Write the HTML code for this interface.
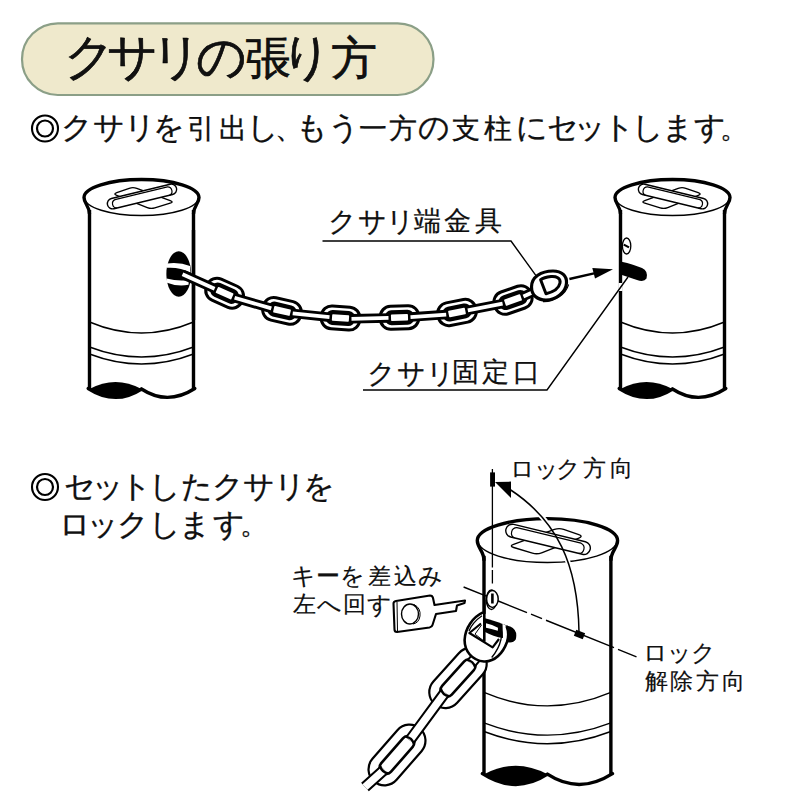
<!DOCTYPE html>
<html><head><meta charset="utf-8">
<style>
html,body{margin:0;padding:0;background:#fff;width:800px;height:800px;overflow:hidden;position:relative}
body{font-family:"Liberation Sans",sans-serif;color:#111}
.g{position:absolute;white-space:nowrap;line-height:1}
svg{position:absolute;left:0;top:0}
.ns *{vector-effect:non-scaling-stroke}
</style></head><body>
<svg width="800" height="800" viewBox="0 0 800 800">
<rect x="22" y="23.3" width="411.5" height="71.7" rx="35.85" fill="#EFE9CC" stroke="#8B9F87" stroke-width="2.2"/>

<g transform="translate(-531,0)"><path d="M620.5,214 C620.5,206 615,203.5 615,197.5 A57.5,18 0 0 1 730,197.5 C730,203.5 724.5,206 724.5,214" fill="#fff" stroke="#000" stroke-width="3.4"/>
<path d="M615.5,197.5 A57,18 0 0 0 729.5,197.5" fill="none" stroke="#000" stroke-width="1.4"/>
<path d="M620.5,210 V389 M724.5,210 V389" stroke="#000" stroke-width="3.4" fill="none"/>
<path d="M620.5,322 Q672.5,344 724.5,322 M620.5,347 Q672.5,367 724.5,347 M620.5,354 Q672.5,374 724.5,354" stroke="#000" stroke-width="1.4" fill="none"/>
<path d="M620.5,389 Q646.5,375 672.5,389 Q646.5,405 620.5,389 Z" fill="#000"/>
<path d="M619.2,388.5 Q646.5,406 672.5,389 Q698.5,406 725.8,388.5" stroke="#000" stroke-width="3.4" fill="none" stroke-linecap="round"/></g>
<g transform="matrix(-1,0,0,1,815,0)"><path d="M644.83,203.16 Q641,202 644.76,200.63 L678.24,188.37 Q682,187 685.78,188.32 L698.22,192.68 Q702,194 698.28,195.47 L667.72,207.53 Q664,209 660.17,207.84 Z" fill="#fff" stroke="#000" stroke-width="1.4"/>
<g transform="translate(673,196.5) rotate(13.6)"><rect x="-35.5" y="-5.3" width="71" height="10.6" rx="5.3" fill="#fff" stroke="#000" stroke-width="1.4"/><path d="M-27,5.3 A4.4,4.4 0 0 1 -27,-3.3 H27 A4.4,4.4 0 0 1 27,5.3" fill="none" stroke="#000" stroke-width="1.2"/></g></g>
<ellipse cx="178.75" cy="274" rx="12.4" ry="22.7" fill="#000"/>
<path d="M167,263.5 Q180,262 190,266 L190.5,272.5 Q180,267 167,267.8 Z" fill="#fff"/>
<path d="M166.5,278.5 Q178,281.5 189,280 L188.5,284.8 Q178,287 167,282.7 Z" fill="#fff"/>
<path d="M193.5,230 V320" stroke="#000" stroke-width="3.4"/>
<g transform="translate(224.6,293.2) rotate(24)"><rect x="-20.75" y="-13" width="41.5" height="26" rx="12" fill="#000"/><rect x="-17.75" y="-10" width="35.5" height="20" rx="9" fill="#fff"/><rect x="-14.5" y="-7.5" width="29" height="15" rx="6.5" fill="#000"/><rect x="-8.5" y="-3.3" width="17" height="6.6" rx="0.8" fill="#fff"/></g>
<g transform="translate(282,310.9) rotate(13)"><rect x="-20.75" y="-13" width="41.5" height="26" rx="12" fill="#000"/><rect x="-17.75" y="-10" width="35.5" height="20" rx="9" fill="#fff"/><rect x="-14.5" y="-7.5" width="29" height="15" rx="6.5" fill="#000"/><rect x="-8.5" y="-3.3" width="17" height="6.6" rx="0.8" fill="#fff"/></g>
<g transform="translate(340.5,318) rotate(4)"><rect x="-20.75" y="-13" width="41.5" height="26" rx="12" fill="#000"/><rect x="-17.75" y="-10" width="35.5" height="20" rx="9" fill="#fff"/><rect x="-14.5" y="-7.5" width="29" height="15" rx="6.5" fill="#000"/><rect x="-8.5" y="-3.3" width="17" height="6.6" rx="0.8" fill="#fff"/></g>
<g transform="translate(399.5,317.5) rotate(-2)"><rect x="-20.75" y="-13" width="41.5" height="26" rx="12" fill="#000"/><rect x="-17.75" y="-10" width="35.5" height="20" rx="9" fill="#fff"/><rect x="-14.5" y="-7.5" width="29" height="15" rx="6.5" fill="#000"/><rect x="-8.5" y="-3.3" width="17" height="6.6" rx="0.8" fill="#fff"/></g>
<g transform="translate(457,312.5) rotate(-11)"><rect x="-20.75" y="-13" width="41.5" height="26" rx="12" fill="#000"/><rect x="-17.75" y="-10" width="35.5" height="20" rx="9" fill="#fff"/><rect x="-14.5" y="-7.5" width="29" height="15" rx="6.5" fill="#000"/><rect x="-8.5" y="-3.3" width="17" height="6.6" rx="0.8" fill="#fff"/></g>
<g transform="translate(513,300) rotate(-19)"><rect x="-20.75" y="-13" width="41.5" height="26" rx="12" fill="#000"/><rect x="-17.75" y="-10" width="35.5" height="20" rx="9" fill="#fff"/><rect x="-14.5" y="-7.5" width="29" height="15" rx="6.5" fill="#000"/><rect x="-8.5" y="-3.3" width="17" height="6.6" rx="0.8" fill="#fff"/></g>
<path d="M182.5,274.3 L214.6,288.7 M234.6,297.7 L271.3,308.4 M292.7,313.4 L329.5,317.2 M351.5,318.8 L388.5,317.9 M410.5,317.1 L446.2,314.6 M467.8,310.4 L502.6,303.6 M523.4,296.4 L540.0,289.0" fill="none" stroke="#000" stroke-width="9.5"/>
<path d="M182.5,274.3 L214.6,288.7 M234.6,297.7 L271.3,308.4 M292.7,313.4 L329.5,317.2 M351.5,318.8 L388.5,317.9 M410.5,317.1 L446.2,314.6 M467.8,310.4 L502.6,303.6 M523.4,296.4 L540.0,289.0" fill="none" stroke="#fff" stroke-width="3.8"/>
<path d="M543,301.6 C555,302 566,294 568.6,284.5" fill="none" stroke="#000" stroke-width="1.1"/>
<path d="M531.5,287 C531.5,277 541,271 553,271 C562,271 567,276 566.5,283 C566,292 556,300 546,300 C537,300 531.5,295 531.5,287 Z" fill="#fff" stroke="#000" stroke-width="3.2"/>
<path d="M540.6,279.7 L546,293.7 C553,292 559,288 560,283 C561,278 556,276 551,276.5 C547,277 543,278 540.6,279.7 Z" fill="#fff" stroke="#000" stroke-width="3" stroke-linejoin="round"/>
<path d="M620.5,214 C620.5,206 615,203.5 615,197.5 A57.5,18 0 0 1 730,197.5 C730,203.5 724.5,206 724.5,214" fill="#fff" stroke="#000" stroke-width="3.4"/>
<path d="M615.5,197.5 A57,18 0 0 0 729.5,197.5" fill="none" stroke="#000" stroke-width="1.4"/>
<path d="M620.5,210 V389 M724.5,210 V389" stroke="#000" stroke-width="3.4" fill="none"/>
<path d="M620.5,322 Q672.5,344 724.5,322 M620.5,347 Q672.5,367 724.5,347 M620.5,354 Q672.5,374 724.5,354" stroke="#000" stroke-width="1.4" fill="none"/>
<path d="M620.5,389 Q646.5,375 672.5,389 Q646.5,405 620.5,389 Z" fill="#000"/>
<path d="M619.2,388.5 Q646.5,406 672.5,389 Q698.5,406 725.8,388.5" stroke="#000" stroke-width="3.4" fill="none" stroke-linecap="round"/>
<path d="M644.83,203.16 Q641,202 644.76,200.63 L678.24,188.37 Q682,187 685.78,188.32 L698.22,192.68 Q702,194 698.28,195.47 L667.72,207.53 Q664,209 660.17,207.84 Z" fill="#fff" stroke="#000" stroke-width="1.4"/>
<g transform="translate(673,196.5) rotate(13.6)"><rect x="-35.5" y="-5.3" width="71" height="10.6" rx="5.3" fill="#fff" stroke="#000" stroke-width="1.4"/><path d="M-27,5.3 A4.4,4.4 0 0 1 -27,-3.3 H27 A4.4,4.4 0 0 1 27,5.3" fill="none" stroke="#000" stroke-width="1.2"/></g>
<ellipse cx="626.6" cy="246" rx="4.2" ry="8" fill="#fff" stroke="#000" stroke-width="1.3"/>
<path d="M620.5,261.5 C630,263.5 637,266 642,268 Q648.5,271 646.5,278.5 Q644,282.5 637,280 L620.5,274.5 Z" fill="#000"/>
<path d="M620.5,283 V291" stroke="#fff" stroke-width="4"/>
<path d="M623.8,244.6 L629,247.4" stroke="#000" stroke-width="2.2"/>
<path d="M322.5,241 H511 L536,275.7" fill="none" stroke="#000" stroke-width="1.4"/>
<path d="M363,390 H547 L628,277" fill="none" stroke="#000" stroke-width="1.4"/>
<path d="M569.4,279 L594,273.4" stroke="#000" stroke-width="2.4"/>
<path d="M592.3,268.1 L613,269.3 L595,278.6 Z" fill="#000"/>
<g class="ns" transform="translate(484,518) scale(1.22) translate(-620.5,-179)"><path d="M620.5,214 C620.5,206 615,203.5 615,197.5 A57.5,18 0 0 1 730,197.5 C730,203.5 724.5,206 724.5,214" fill="#fff" stroke="#000" stroke-width="3.4"/>
<path d="M615.5,197.5 A57,18 0 0 0 729.5,197.5" fill="none" stroke="#000" stroke-width="1.4"/>
<path d="M620.5,210 V389 M724.5,210 V389" stroke="#000" stroke-width="3.4" fill="none"/>
<path d="M620.5,322 Q672.5,344 724.5,322 M620.5,347 Q672.5,367 724.5,347 M620.5,354 Q672.5,374 724.5,354" stroke="#000" stroke-width="1.4" fill="none"/>
<path d="M620.5,389 Q646.5,375 672.5,389 Q646.5,405 620.5,389 Z" fill="#000"/>
<path d="M619.2,388.5 Q646.5,406 672.5,389 Q698.5,406 725.8,388.5" stroke="#000" stroke-width="3.4" fill="none" stroke-linecap="round"/><path d="M644.83,203.16 Q641,202 644.76,200.63 L678.24,188.37 Q682,187 685.78,188.32 L698.22,192.68 Q702,194 698.28,195.47 L667.72,207.53 Q664,209 660.17,207.84 Z" fill="#fff" stroke="#000" stroke-width="1.4"/>
<g transform="translate(673,196.5) rotate(13.6)"><rect x="-35.5" y="-5.3" width="71" height="10.6" rx="5.3" fill="#fff" stroke="#000" stroke-width="1.4"/><path d="M-27,5.3 A4.4,4.4 0 0 1 -27,-3.3 H27 A4.4,4.4 0 0 1 27,5.3" fill="none" stroke="#000" stroke-width="1.2"/></g><ellipse cx="626.6" cy="246" rx="4.2" ry="8" fill="#fff" stroke="#000" stroke-width="1.3"/>
<path d="M620.5,261.5 C630,263.5 637,266 642,268 Q648.5,271 646.5,278.5 Q644,282.5 637,280 L620.5,274.5 Z" fill="#000"/></g>
<path d="M492.4,469 V567.5 M492.4,570 V583.5" stroke="#000" stroke-width="1.3"/>
<rect x="490.1" y="472.4" width="4.9" height="14.2" fill="#000"/>
<path d="M495,482 L511,481.6 L511,498 Z" fill="#000"/>
<path d="M510,489.5 C556.75,520.23 577.9,563.67 579,632" fill="none" stroke="#fff" stroke-width="5" stroke-dasharray="0 40 8.6 41.9 7.2 200"/>
<path d="M510,489.5 C556.75,520.23 577.9,563.67 579,632" fill="none" stroke="#000" stroke-width="1.5"/>
<path d="M463.6,587.00 L487,596.45 M497,600.48 L527,612.59 M531,614.21 L542,618.65 M546,620.26 L614,647.72 M618,649.33 L636.5,656.80" stroke="#000" stroke-width="1.4"/>
<rect x="-4.8" y="-3.2" width="9.6" height="6.4" fill="#000" transform="translate(579.5,634.5) rotate(22)"/>
<ellipse cx="492.4" cy="599" rx="5.8" ry="8.4" fill="#fff" stroke="#000" stroke-width="1.5"/>
<path d="M492.4,593.5 V603.5" stroke="#000" stroke-width="2.6"/>
<g transform="translate(458,678) rotate(-48)"><rect x="-35" y="-16" width="70" height="32" rx="16" fill="#fff" stroke="#000" stroke-width="2.2"/><rect x="-23" y="-6.5" width="46" height="13" rx="6.5" fill="#fff" stroke="#000" stroke-width="2.6"/></g>
<g transform="translate(397,755) rotate(-49)"><rect x="-35" y="-16" width="70" height="32" rx="16" fill="#fff" stroke="#000" stroke-width="2.2"/><rect x="-23" y="-6.5" width="46" height="13" rx="6.5" fill="#fff" stroke="#000" stroke-width="2.6"/></g>
<path d="M486.0,646.0 L471.0,663.5 M445.0,692.5 L409.8,740.3 M384.2,769.7 L365.0,787.0" fill="none" stroke="#000" stroke-width="11.5"/>
<path d="M486.0,646.0 L471.0,663.5 M445.0,692.5 L409.8,740.3 M384.2,769.7 L365.0,787.0" fill="none" stroke="#fff" stroke-width="7.4"/>
<g transform="translate(458,678) rotate(-48)"><path d="M-19.5,-5.5 Q-23,0 -19.5,5.5 M19.5,-5.5 Q23,0 19.5,5.5" fill="none" stroke="#000" stroke-width="2.4"/></g>
<g transform="translate(397,755) rotate(-49)"><path d="M-19.5,-5.5 Q-23,0 -19.5,5.5 M19.5,-5.5 Q23,0 19.5,5.5" fill="none" stroke="#000" stroke-width="2.4"/></g>
<path d="M483,612.4 C473,617 465,628 464.6,640 C464.5,651 472,660.5 484,661.5 C495,662 503,653 507,642 C509,636 508.5,631 506.6,626" fill="#fff" stroke="#000" stroke-width="2.6"/>
<path d="M482,615.8 C476,620 471,626 469,631" fill="none" stroke="#000" stroke-width="1.2"/>
<path d="M500.5,626.5 C503,633 502,645 491.7,657.5" fill="none" stroke="#000" stroke-width="1.3"/>
<path d="M484,618 C490,619.5 497,621.5 502.5,624 L503,638 C497,637.5 490,634.5 484,631.5 Z" fill="#000"/>
<path d="M486,623.3 Q492,624.3 498,627.8 L497.8,630.8 Q491,628.7 486,627.7 Z" fill="#fff"/>
<path d="M481,623.5 L469.4,633 L492.6,647.4 L499,639" fill="none" stroke="#000" stroke-width="2.2" stroke-linejoin="round"/>
<path d="M475.2,634.3 L483.5,640.7 M475,634.2 L481.5,625" fill="none" stroke="#000" stroke-width="1"/>
<path d="M484.3,600 V641.7" stroke="#000" stroke-width="2.6"/>
<path d="M393.5,603.5 Q393.5,601.5 396,601 L430,595.5 Q432.5,595.5 433,598 L434.5,605 L465,600.5 L464.5,603 L457,605.5 L456,611 L436,614 L432.5,625 Q432,627 429.5,627.5 L397,632 Q394.5,632 394.5,629.5 Z" fill="#fff" stroke="#000" stroke-width="2.1" stroke-linejoin="round"/>\n<path d="M397,602 L397.5,631" stroke="#000" stroke-width="1"/>\n<ellipse cx="410" cy="614" rx="8.5" ry="10" fill="#fff" stroke="#000" stroke-width="1.4"/>\n<path d="M414,604.5 Q421,608 420,616 Q419,623 413,624" fill="none" stroke="#000" stroke-width="1"/>
<circle cx="45" cy="128.5" r="13" fill="none" stroke="#000" stroke-width="2.1"/><circle cx="45" cy="128.5" r="8" fill="none" stroke="#000" stroke-width="2.2"/>
<circle cx="45" cy="487" r="13" fill="none" stroke="#000" stroke-width="2.1"/><circle cx="45" cy="487" r="8" fill="none" stroke="#000" stroke-width="2.2"/>
</svg>
<span class="g" style="left:63.5px;top:33.2px;font-size:49.7px;-webkit-text-stroke:0.6px #000">ク</span>
<span class="g" style="left:107.2px;top:33.2px;font-size:49.7px;-webkit-text-stroke:0.6px #000">サ</span>
<span class="g" style="left:151.2px;top:33.2px;font-size:49.7px;-webkit-text-stroke:0.6px #000">リ</span>
<span class="g" style="left:195.5px;top:33.2px;font-size:49.7px;-webkit-text-stroke:0.6px #000">の</span>
<span class="g" style="left:245.2px;top:35.0px;font-size:46px;-webkit-text-stroke:0.6px #000">張</span>
<span class="g" style="left:280.8px;top:33.2px;font-size:49.7px;-webkit-text-stroke:0.6px #000">り</span>
<span class="g" style="left:331.0px;top:35.0px;font-size:46px;-webkit-text-stroke:0.6px #000">方</span>
<span class="g" style="left:61.3px;top:113.3px;font-size:30.8px;-webkit-text-stroke:0.3px #000">ク</span>
<span class="g" style="left:93.0px;top:113.3px;font-size:30.8px;-webkit-text-stroke:0.3px #000">サ</span>
<span class="g" style="left:123.5px;top:113.3px;font-size:30.8px;-webkit-text-stroke:0.3px #000">リ</span>
<span class="g" style="left:152.7px;top:113.3px;font-size:30.8px;-webkit-text-stroke:0.3px #000">を</span>
<span class="g" style="left:186.7px;top:114.7px;font-size:28px;-webkit-text-stroke:0.3px #000">引</span>
<span class="g" style="left:218.9px;top:114.7px;font-size:28px;-webkit-text-stroke:0.3px #000">出</span>
<span class="g" style="left:246.5px;top:113.3px;font-size:30.8px;-webkit-text-stroke:0.3px #000">し</span>
<span class="g" style="left:275.1px;top:114.7px;font-size:28px;-webkit-text-stroke:0.3px #000">、</span>
<span class="g" style="left:296.1px;top:113.3px;font-size:30.8px;-webkit-text-stroke:0.3px #000">も</span>
<span class="g" style="left:327.5px;top:113.3px;font-size:30.8px;-webkit-text-stroke:0.3px #000">う</span>
<span class="g" style="left:358.5px;top:114.7px;font-size:28px;-webkit-text-stroke:0.3px #000">一</span>
<span class="g" style="left:388.7px;top:114.7px;font-size:28px;-webkit-text-stroke:0.3px #000">方</span>
<span class="g" style="left:417.7px;top:113.3px;font-size:30.8px;-webkit-text-stroke:0.3px #000">の</span>
<span class="g" style="left:452.1px;top:114.7px;font-size:28px;-webkit-text-stroke:0.3px #000">支</span>
<span class="g" style="left:484.0px;top:114.7px;font-size:28px;-webkit-text-stroke:0.3px #000">柱</span>
<span class="g" style="left:515.7px;top:113.3px;font-size:30.8px;-webkit-text-stroke:0.3px #000">に</span>
<span class="g" style="left:546.8px;top:113.3px;font-size:30.8px;-webkit-text-stroke:0.3px #000">セ</span>
<span class="g" style="left:574.3px;top:113.3px;font-size:30.8px;-webkit-text-stroke:0.3px #000">ッ</span>
<span class="g" style="left:602.9px;top:113.3px;font-size:30.8px;-webkit-text-stroke:0.3px #000">ト</span>
<span class="g" style="left:631.5px;top:113.3px;font-size:30.8px;-webkit-text-stroke:0.3px #000">し</span>
<span class="g" style="left:661.5px;top:113.3px;font-size:30.8px;-webkit-text-stroke:0.3px #000">ま</span>
<span class="g" style="left:694.0px;top:113.3px;font-size:30.8px;-webkit-text-stroke:0.3px #000">す</span>
<span class="g" style="left:720.0px;top:114.7px;font-size:28px;-webkit-text-stroke:0.3px #000">。</span>
<span class="g" style="left:64.2px;top:471.5px;font-size:30.8px;-webkit-text-stroke:0.3px #000">セ</span>
<span class="g" style="left:92.1px;top:471.5px;font-size:30.8px;-webkit-text-stroke:0.3px #000">ッ</span>
<span class="g" style="left:120.0px;top:471.5px;font-size:30.8px;-webkit-text-stroke:0.3px #000">ト</span>
<span class="g" style="left:149.3px;top:471.5px;font-size:30.8px;-webkit-text-stroke:0.3px #000">し</span>
<span class="g" style="left:180.5px;top:471.5px;font-size:30.8px;-webkit-text-stroke:0.3px #000">た</span>
<span class="g" style="left:211.7px;top:471.5px;font-size:30.8px;-webkit-text-stroke:0.3px #000">ク</span>
<span class="g" style="left:243.0px;top:471.5px;font-size:30.8px;-webkit-text-stroke:0.3px #000">サ</span>
<span class="g" style="left:274.0px;top:471.5px;font-size:30.8px;-webkit-text-stroke:0.3px #000">リ</span>
<span class="g" style="left:302.5px;top:471.5px;font-size:30.8px;-webkit-text-stroke:0.3px #000">を</span>
<span class="g" style="left:59.4px;top:509.5px;font-size:30.8px;-webkit-text-stroke:0.3px #000">ロ</span>
<span class="g" style="left:86.9px;top:509.5px;font-size:30.8px;-webkit-text-stroke:0.3px #000">ッ</span>
<span class="g" style="left:117.2px;top:509.5px;font-size:30.8px;-webkit-text-stroke:0.3px #000">ク</span>
<span class="g" style="left:149.0px;top:509.5px;font-size:30.8px;-webkit-text-stroke:0.3px #000">し</span>
<span class="g" style="left:178.8px;top:509.5px;font-size:30.8px;-webkit-text-stroke:0.3px #000">ま</span>
<span class="g" style="left:213.0px;top:509.5px;font-size:30.8px;-webkit-text-stroke:0.3px #000">す</span>
<span class="g" style="left:240.0px;top:510.9px;font-size:28px;-webkit-text-stroke:0.3px #000">。</span>
<span class="g" style="left:328.2px;top:206.8px;font-size:28.4px;-webkit-text-stroke:0.2px #000">ク</span>
<span class="g" style="left:358.2px;top:206.8px;font-size:28.4px;-webkit-text-stroke:0.2px #000">サ</span>
<span class="g" style="left:386.3px;top:206.8px;font-size:28.4px;-webkit-text-stroke:0.2px #000">リ</span>
<span class="g" style="left:413.8px;top:207.5px;font-size:27px;-webkit-text-stroke:0.2px #000">端</span>
<span class="g" style="left:443.6px;top:207.5px;font-size:27px;-webkit-text-stroke:0.2px #000">金</span>
<span class="g" style="left:475.3px;top:207.5px;font-size:27px;-webkit-text-stroke:0.2px #000">具</span>
<span class="g" style="left:367.4px;top:358.7px;font-size:28.4px;-webkit-text-stroke:0.2px #000">ク</span>
<span class="g" style="left:397.4px;top:358.7px;font-size:28.4px;-webkit-text-stroke:0.2px #000">サ</span>
<span class="g" style="left:425.5px;top:358.7px;font-size:28.4px;-webkit-text-stroke:0.2px #000">リ</span>
<span class="g" style="left:452.4px;top:359.4px;font-size:27px;-webkit-text-stroke:0.2px #000">固</span>
<span class="g" style="left:482.3px;top:359.4px;font-size:27px;-webkit-text-stroke:0.2px #000">定</span>
<span class="g" style="left:512.6px;top:359.4px;font-size:27px;-webkit-text-stroke:0.2px #000">口</span>
<span class="g" style="left:509.9px;top:456.6px;font-size:24.2px;-webkit-text-stroke:0.15px #000">ロ</span>
<span class="g" style="left:534.0px;top:456.6px;font-size:24.2px;-webkit-text-stroke:0.15px #000">ッ</span>
<span class="g" style="left:556.4px;top:456.6px;font-size:24.2px;-webkit-text-stroke:0.15px #000">ク</span>
<span class="g" style="left:583.0px;top:457.2px;font-size:23px;-webkit-text-stroke:0.15px #000">方</span>
<span class="g" style="left:609.7px;top:457.2px;font-size:23px;-webkit-text-stroke:0.15px #000">向</span>
<span class="g" style="left:290.5px;top:564.2px;font-size:24.2px;-webkit-text-stroke:0.15px #000">キ</span>
<span class="g" style="left:316.0px;top:564.2px;font-size:24.2px;-webkit-text-stroke:0.15px #000">ー</span>
<span class="g" style="left:339.5px;top:564.2px;font-size:24.2px;-webkit-text-stroke:0.15px #000">を</span>
<span class="g" style="left:368.0px;top:564.8px;font-size:23px;-webkit-text-stroke:0.15px #000">差</span>
<span class="g" style="left:394.0px;top:564.8px;font-size:23px;-webkit-text-stroke:0.15px #000">込</span>
<span class="g" style="left:418.0px;top:564.2px;font-size:24.2px;-webkit-text-stroke:0.15px #000">み</span>
<span class="g" style="left:293.0px;top:593.3px;font-size:23px;-webkit-text-stroke:0.15px #000">左</span>
<span class="g" style="left:316.5px;top:592.7px;font-size:24.2px;-webkit-text-stroke:0.15px #000">へ</span>
<span class="g" style="left:342.5px;top:593.3px;font-size:23px;-webkit-text-stroke:0.15px #000">回</span>
<span class="g" style="left:367.0px;top:592.7px;font-size:24.2px;-webkit-text-stroke:0.15px #000">す</span>
<span class="g" style="left:642.5px;top:640.6px;font-size:24.2px;-webkit-text-stroke:0.15px #000">ロ</span>
<span class="g" style="left:667.2px;top:640.6px;font-size:24.2px;-webkit-text-stroke:0.15px #000">ッ</span>
<span class="g" style="left:690.8px;top:640.6px;font-size:24.2px;-webkit-text-stroke:0.15px #000">ク</span>
<span class="g" style="left:644.8px;top:670.1px;font-size:23px;-webkit-text-stroke:0.15px #000">解</span>
<span class="g" style="left:670.0px;top:670.1px;font-size:23px;-webkit-text-stroke:0.15px #000">除</span>
<span class="g" style="left:695.7px;top:670.1px;font-size:23px;-webkit-text-stroke:0.15px #000">方</span>
<span class="g" style="left:721.8px;top:670.1px;font-size:23px;-webkit-text-stroke:0.15px #000">向</span>
</body></html>
